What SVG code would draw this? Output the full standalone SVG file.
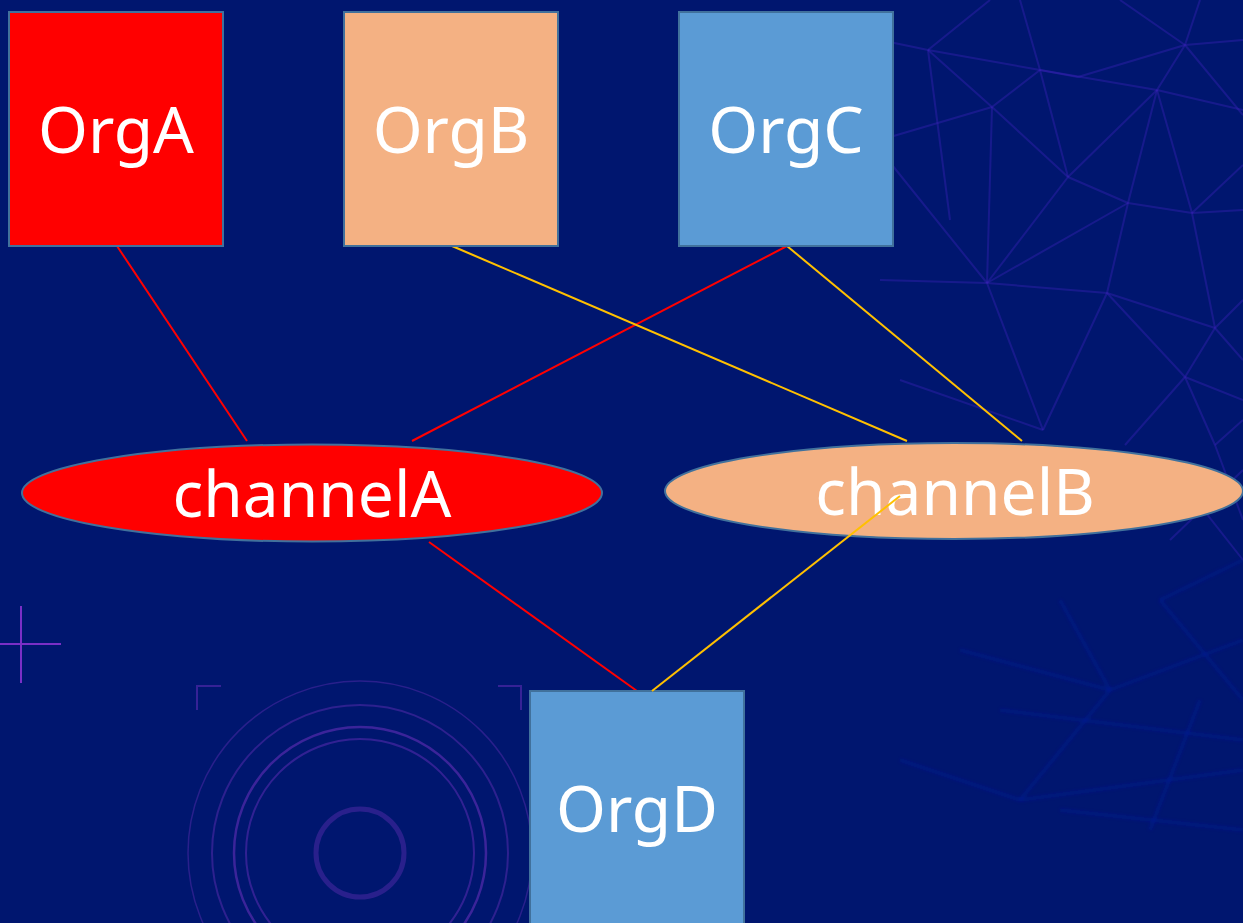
<svg xmlns="http://www.w3.org/2000/svg" width="1243" height="923" viewBox="0 0 1243 923">
  <defs>
    <style>
      .org { stroke: #41719C; stroke-width: 2; }
      .lbl { font-family: "Noto Sans", "Open Sans", sans-serif; font-size: 64px; fill: #FFFFFF; text-anchor: middle; }
      .red { stroke: #FF0000; stroke-width: 2; fill: none; }
      .gold { stroke: #FFC000; stroke-width: 2; fill: none; }
      .mesh line { stroke: #3A22B8; stroke-width: 2; opacity: 0.4; }
      .mesh2 line { stroke: #0A22C8; stroke-width: 4; opacity: 0.18; }
      .deco { stroke: #5A2CB0; fill: none; }
    </style>
    <filter id="soft" x="-10%" y="-10%" width="120%" height="120%">
      <feGaussianBlur stdDeviation="1.5"/>
    </filter>
  </defs>

  <!-- backdrop -->
  <rect x="0" y="0" width="1243" height="923" fill="#00166F"/>

  <!-- decorative mesh, upper right -->
  <g class="mesh">
    <line x1="880" y1="40" x2="928" y2="50"/>
    <line x1="928" y1="50" x2="1040" y2="70"/>
    <line x1="1040" y1="70" x2="1157" y2="90"/>
    <line x1="1157" y1="90" x2="1243" y2="110"/>
    <line x1="1185" y1="45" x2="1243" y2="40"/>
    <line x1="1185" y1="45" x2="1157" y2="90"/>
    <line x1="1185" y1="45" x2="1243" y2="115"/>
    <line x1="1120" y1="0" x2="1185" y2="45"/>
    <line x1="1200" y1="0" x2="1185" y2="45"/>
    <line x1="1040" y1="70" x2="1078" y2="77"/>
    <line x1="1078" y1="77" x2="1185" y2="45"/>
    <line x1="1020" y1="0" x2="1040" y2="70"/>
    <line x1="990" y1="0" x2="928" y2="50"/>
    <line x1="928" y1="50" x2="992" y2="107"/>
    <line x1="1040" y1="70" x2="992" y2="107"/>
    <line x1="992" y1="107" x2="880" y2="140"/>
    <line x1="1040" y1="70" x2="1068" y2="177"/>
    <line x1="992" y1="107" x2="1068" y2="177"/>
    <line x1="1068" y1="177" x2="1128" y2="203"/>
    <line x1="1128" y1="203" x2="1192" y2="213"/>
    <line x1="1192" y1="213" x2="1243" y2="210"/>
    <line x1="1157" y1="90" x2="1128" y2="203"/>
    <line x1="1157" y1="90" x2="1192" y2="213"/>
    <line x1="1157" y1="90" x2="1068" y2="177"/>
    <line x1="1192" y1="213" x2="1243" y2="165"/>
    <line x1="1128" y1="203" x2="1107" y2="293"/>
    <line x1="1068" y1="177" x2="987" y2="283"/>
    <line x1="992" y1="107" x2="987" y2="283"/>
    <line x1="928" y1="50" x2="950" y2="220"/>
    <line x1="880" y1="150" x2="987" y2="283"/>
    <line x1="987" y1="283" x2="1107" y2="293"/>
    <line x1="1107" y1="293" x2="1215" y2="328"/>
    <line x1="1192" y1="213" x2="1215" y2="328"/>
    <line x1="1215" y1="328" x2="1243" y2="300"/>
    <line x1="1128" y1="203" x2="987" y2="283"/>
    <line x1="1107" y1="293" x2="1185" y2="377"/>
    <line x1="1215" y1="328" x2="1185" y2="377"/>
    <line x1="1185" y1="377" x2="1243" y2="400"/>
    <line x1="1107" y1="293" x2="1043" y2="430"/>
    <line x1="987" y1="283" x2="1043" y2="430"/>
    <line x1="1185" y1="377" x2="1125" y2="445"/>
    <line x1="1215" y1="328" x2="1243" y2="360"/>
    <line x1="1185" y1="377" x2="1215" y2="445"/>
    <line x1="880" y1="280" x2="987" y2="283"/>
    <line x1="900" y1="380" x2="1043" y2="430"/>
    <line x1="1215" y1="445" x2="1243" y2="420"/>
    <line x1="1215" y1="445" x2="1243" y2="520"/>
    <line x1="1180" y1="480" x2="1243" y2="560"/>
    <line x1="1243" y1="470" x2="1170" y2="540"/>
  </g>

  <!-- decorative mesh, lower right (diffuse) -->
  <g class="mesh2" filter="url(#soft)">
    <line x1="900" y1="760" x2="1020" y2="800"/>
    <line x1="1020" y1="800" x2="1110" y2="690"/>
    <line x1="1110" y1="690" x2="1243" y2="640"/>
    <line x1="1110" y1="690" x2="1060" y2="600"/>
    <line x1="1020" y1="800" x2="1243" y2="770"/>
    <line x1="1243" y1="830" x2="1060" y2="810"/>
    <line x1="1160" y1="600" x2="1243" y2="700"/>
    <line x1="1000" y1="710" x2="1243" y2="740"/>
    <line x1="1150" y1="830" x2="1200" y2="700"/>
    <line x1="960" y1="650" x2="1110" y2="690"/>
    <line x1="1243" y1="560" x2="1160" y2="600"/>
  </g>

  <!-- crosshair and lens ornament, lower left -->
  <g class="deco">
    <line x1="21" y1="606" x2="21" y2="683" stroke="#7A2FC6" stroke-width="2"/>
    <line x1="0" y1="644" x2="61" y2="644" stroke="#7A2FC6" stroke-width="2"/>
    <path d="M197 710 V686 H221" stroke-width="2" opacity="0.6"/>
    <path d="M498 686 H521 V710" stroke-width="2" opacity="0.6"/>
    <circle cx="360" cy="853" r="172" stroke-width="1.5" opacity="0.45"/>
    <circle cx="360" cy="853" r="148" stroke-width="2" opacity="0.5"/>
    <circle cx="360" cy="853" r="126" stroke-width="2.5" opacity="0.65"/>
    <circle cx="360" cy="853" r="114" stroke-width="2" opacity="0.55"/>
    <circle cx="360" cy="853" r="44" stroke-width="5" opacity="0.45"/>
  </g>

  <!-- connectors -->
  <g id="connectors">
    <line class="red" x1="117" y1="246" x2="247" y2="441"/>
    <line class="red" x1="787" y1="246" x2="412" y2="441"/>
    <line class="gold" x1="452" y1="246" x2="907" y2="441"/>
    <line class="gold" x1="787" y1="246" x2="1022" y2="441"/>
    <line class="red" x1="429" y1="542" x2="637" y2="691"/>
  </g>

  <g id="OrgA">
    <rect class="org" x="9" y="12" width="214" height="234" fill="#FF0000"/>
    <text class="lbl" x="116" y="153">OrgA</text>
  </g>
  <g id="OrgB">
    <rect class="org" x="344" y="12" width="214" height="234" fill="#F4B183"/>
    <text class="lbl" x="451" y="153">OrgB</text>
  </g>
  <g id="OrgC">
    <rect class="org" x="679" y="12" width="214" height="234" fill="#5B9BD5"/>
    <text class="lbl" x="786" y="153">OrgC</text>
  </g>
  <g id="channelA">
    <ellipse class="org" cx="312" cy="493" rx="290" ry="48.5" fill="#FF0000"/>
    <text class="lbl" x="312" y="517">channelA</text>
  </g>
  <g id="channelB">
    <ellipse class="org" cx="954" cy="491" rx="289" ry="48" fill="#F4B183"/>
    <text class="lbl" x="955" y="515">channelB</text>
  </g>
  <g id="OrgD">
    <rect class="org" x="530" y="691" width="214" height="240" fill="#5B9BD5"/>
    <text class="lbl" x="637" y="832">OrgD</text>
  </g>

  <!-- OrgD to channelB link runs over the ellipse -->
  <g id="connectors-top">
    <line class="gold" x1="652" y1="691" x2="900" y2="496"/>
  </g>
</svg>
